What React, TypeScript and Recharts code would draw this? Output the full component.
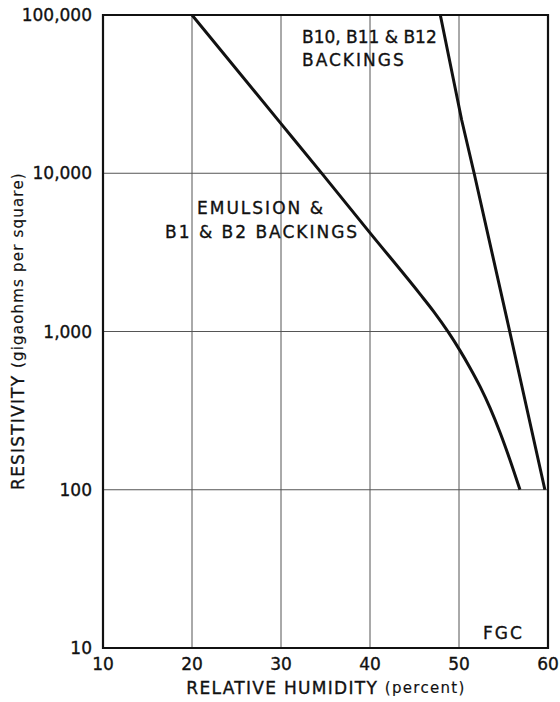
import React from "react";
import { LineChart, Line, XAxis, YAxis, CartesianGrid, ReferenceArea, Customized } from "recharts";

const humidityTicks = [10, 20, 30, 40, 50, 60];
const resistivityTicks = [10, 100, 1000, 10000, 100000];

const emulsionHumidity = [20, 30, 34.7, 40, 45.6, 47.1, 48.8, 50.1, 51.2, 52.4, 53.5, 54.6, 55.7, 56.85];
const emulsionResistivity = [100000, 20600, 9800, 4200, 1730, 1350, 990, 760, 595, 445, 328, 231, 156, 100];

const backingHumidity = [47.9, 50.3, 51.7, 55.7, 59.65];
const backingResistivity = [100000, 21700, 10000, 1000, 100];

const emulsionData = emulsionHumidity.map((h, i) => ({ h, r: emulsionResistivity[i] }));
const backingData = backingHumidity.map((h, i) => ({ h, r: backingResistivity[i] }));

const FONT = "'DejaVu Sans', Lato, sans-serif";

const fmt = (v: number) => v.toLocaleString("en-US");

const Annotations = () => (
  <g fontFamily={FONT} fill="#111" stroke="#111" strokeWidth={0.35}>
    <text x={302} y={37} fontSize={17} dominantBaseline="central">B10, B11 &amp; B12</text>
    <text x={302} y={60} fontSize={17} letterSpacing={2} dominantBaseline="central">BACKINGS</text>
    <text x={197} y={208} fontSize={17} letterSpacing={2} dominantBaseline="central">EMULSION &amp;</text>
    <text x={165} y={232} fontSize={17} letterSpacing={2} dominantBaseline="central">B1 &amp; B2 BACKINGS</text>
    <text x={483} y={633} fontSize={17} letterSpacing={2} dominantBaseline="central">FGC</text>
    <text x={326} y={688} fontSize={17} letterSpacing={1.3} textAnchor="middle" dominantBaseline="central">
      <tspan>RELATIVE HUMIDITY </tspan>
      <tspan fontSize={15} strokeWidth={0.15}>(percent)</tspan>
    </text>
    <text
      x={18}
      y={331}
      fontSize={17}
      letterSpacing={1.2}
      textAnchor="middle"
      dominantBaseline="central"
      transform="rotate(-90 18 331)"
    >
      <tspan>RESISTIVITY </tspan>
      <tspan fontSize={15} strokeWidth={0.15}>(gigaohms per square)</tspan>
    </text>
  </g>
);

const tickStyle = { fill: "#111", stroke: "#111", strokeWidth: 0.35, fontSize: 17, fontFamily: FONT };

export default function App() {
  return (
    <div style={{ position: "absolute", left: 0, top: 0, width: 560, height: 702 }}>
      <LineChart
        width={560}
        height={702}
        margin={{ top: 15, right: 12, bottom: 0, left: 0 }}
      >
        <CartesianGrid stroke="#555" strokeWidth={1} />
        <XAxis
          dataKey="h"
          type="number"
          domain={[10, 60]}
          ticks={humidityTicks}
          allowDataOverflow
          height={54}
          tickSize={0}
          tickMargin={10}
          axisLine={false}
          tick={tickStyle}
        />
        <YAxis
          dataKey="r"
          type="number"
          scale="log"
          domain={[10, 100000]}
          ticks={resistivityTicks}
          allowDataOverflow
          width={103}
          tickSize={0}
          tickMargin={11}
          axisLine={false}
          tickFormatter={fmt}
          tick={tickStyle}
        />
        <ReferenceArea x1={10} x2={60} y1={10} y2={100000} fill="none" stroke="#111" strokeWidth={2.2} />
        <Line
          data={emulsionData}
          dataKey="r"
          type="monotone"
          stroke="#111"
          strokeWidth={3}
          dot={false}
          isAnimationActive={false}
        />
        <Line
          data={backingData}
          dataKey="r"
          type="linear"
          stroke="#111"
          strokeWidth={3}
          dot={false}
          isAnimationActive={false}
        />
        <Customized component={Annotations} />
      </LineChart>
    </div>
  );
}
